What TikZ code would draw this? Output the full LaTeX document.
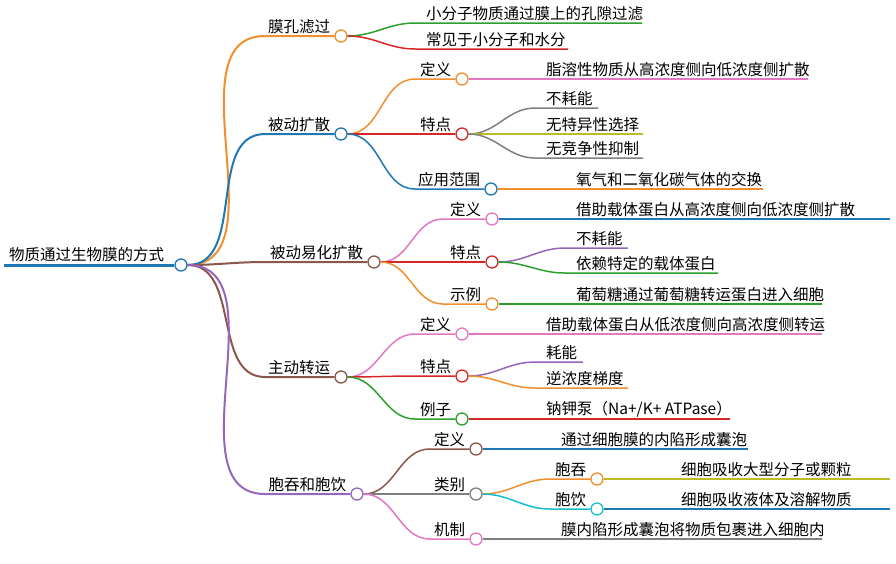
\documentclass[tikz,border=0pt]{standalone}
\usepackage{fontspec}
\setmainfont{Noto Sans CJK SC}
\usetikzlibrary{positioning}
\definecolor{corange}{HTML}{F28E2B}
\definecolor{cblue}{HTML}{1F77B4}
\definecolor{cbrown}{HTML}{8C564B}
\definecolor{cpurple}{HTML}{9467BD}
\definecolor{cgreen}{HTML}{2CA02C}
\definecolor{cred}{HTML}{D62728}
\definecolor{cpink}{HTML}{E377C2}
\definecolor{cgray}{HTML}{7F7F7F}
\definecolor{colive}{HTML}{BCBD22}
\definecolor{ccyan}{HTML}{17BECF}
\tikzset{
  txt/.style    = {font=\fontsize{15.5}{18}\selectfont, inner sep=1pt},
  knot/.style   = {circle, draw, fill=white, line width=1.3pt, minimum size=12pt, inner sep=0pt},
  edge/.style   = {line width=1.5pt}
}
% inner node: parent, name, start x, circle x, y, colour, text
\newcommand\midnode[7]{%
  \node[knot, draw=#6] (#2) at (#4,#5) {};
  \node[txt, anchor=south east] (#2t) at ([xshift=-3pt,yshift=1pt]#2.west) {#7};
  \draw[edge, #6] (#1) to[out=0,in=180] (#3,#5) -- (#2);}
% leaf: parent, name, start x, end x, y, colour, text
\newcommand\leaf[7]{%
  \coordinate (#2) at (#4,#5);
  \node[txt, anchor=south west] (#2t) at (#3+10,#5-1) {#7};
  \draw[edge, #6] (#1) to[out=0,in=180] (#3,#5) -- (#2);}

\begin{document}
\begin{tikzpicture}[x=1pt, y=-1pt]
\useasboundingbox (0,0) rectangle (896,563);

% root
\node[knot, draw=cblue] (root) at (181,265) {};
\node[txt, anchor=south west] (roott) at (8,263) {物质通过生物膜的方式};
\draw[cblue, line width=3pt] (4,265) -- (root);

% first level
\begin{scope}[edge/.style={line width=2pt}]
\midnode{root}{mk}{265}{341}{36}{corange}{膜孔滤过}
\midnode{root}{bd}{265}{341}{134}{cblue}{被动扩散}
\midnode{root}{yh}{265}{374}{262}{cbrown}{被动易化扩散}
\midnode{root}{zd}{265}{341}{377}{cbrown}{主动转运}
\midnode{root}{bt}{265}{357}{494}{cpurple}{胞吞和胞饮}
\end{scope}

% 膜孔滤过
\leaf{mk}{mk1}{415}{642}{23}{cgreen}{小分子物质通过膜上的孔隙过滤}
\leaf{mk}{mk2}{415}{568}{49}{cred}{常见于小分子和水分}

% 被动扩散
\midnode{bd}{bd1}{415}{462}{79}{corange}{定义}
\leaf{bd1}{bd11}{535}{808}{79}{cpink}{脂溶性物质从高浓度侧向低浓度侧扩散}
\midnode{bd}{bd2}{415}{462}{134}{cred}{特点}
\leaf{bd2}{bd21}{535}{598}{108}{cgray}{不耗能}
\leaf{bd2}{bd22}{535}{643}{134}{colive}{无特异性选择}
\leaf{bd2}{bd23}{535}{643}{158}{cgray}{无竞争性抑制}
\midnode{bd}{bd3}{415}{491}{189}{cblue}{应用范围}
\leaf{bd3}{bd31}{565}{763}{189}{corange}{氧气和二氧化碳气体的交换}

% 被动易化扩散
\midnode{yh}{yh1}{443}{492}{219}{cpink}{定义}
\leaf{yh1}{yh11}{565}{890}{219}{cblue}{借助载体蛋白从高浓度侧向低浓度侧扩散}
\midnode{yh}{yh2}{443}{492}{262}{cred}{特点}
\leaf{yh2}{yh21}{565}{628}{248}{cpurple}{不耗能}
\leaf{yh2}{yh22}{565}{718}{273}{cgreen}{依赖特定的载体蛋白}
\midnode{yh}{yh3}{443}{492}{304}{corange}{示例}
\leaf{yh3}{yh31}{565}{822}{304}{cgreen}{葡萄糖通过葡萄糖转运蛋白进入细胞}

% 主动转运
\midnode{zd}{zd1}{415}{462}{334}{cpink}{定义}
\leaf{zd1}{zd11}{535}{822}{334}{cpink}{借助载体蛋白从低浓度侧向高浓度侧转运}
\midnode{zd}{zd2}{415}{462}{376}{cred}{特点}
\leaf{zd2}{zd21}{535}{583}{362}{cpurple}{耗能}
\leaf{zd2}{zd22}{535}{628}{388}{corange}{逆浓度梯度}
\midnode{zd}{zd3}{415}{462}{419}{cgreen}{例子}
\leaf{zd3}{zd31}{535}{730}{419}{cred}{钠钾泵（Na+/K+ ATPase）}

% 胞吞和胞饮
\midnode{bt}{bt1}{430}{476}{449}{cbrown}{定义}
\leaf{bt1}{bt11}{550}{748}{449}{cblue}{通过细胞膜的内陷形成囊泡}
\midnode{bt}{bt2}{430}{476}{494}{cgray}{类别}
\midnode{bt2}{bt21}{550}{597}{479}{corange}{胞吞}
\leaf{bt21}{bt211}{670}{890}{479}{colive}{细胞吸收大型分子或颗粒}
\midnode{bt2}{bt22}{550}{597}{509}{ccyan}{胞饮}
\leaf{bt22}{bt221}{670}{890}{509}{cblue}{细胞吸收液体及溶解物质}
\midnode{bt}{bt3}{430}{476}{539}{cpink}{机制}
\leaf{bt3}{bt31}{550}{822}{539}{cgray}{膜内陷形成囊泡将物质包裹进入细胞内}
\end{tikzpicture}
\end{document}
